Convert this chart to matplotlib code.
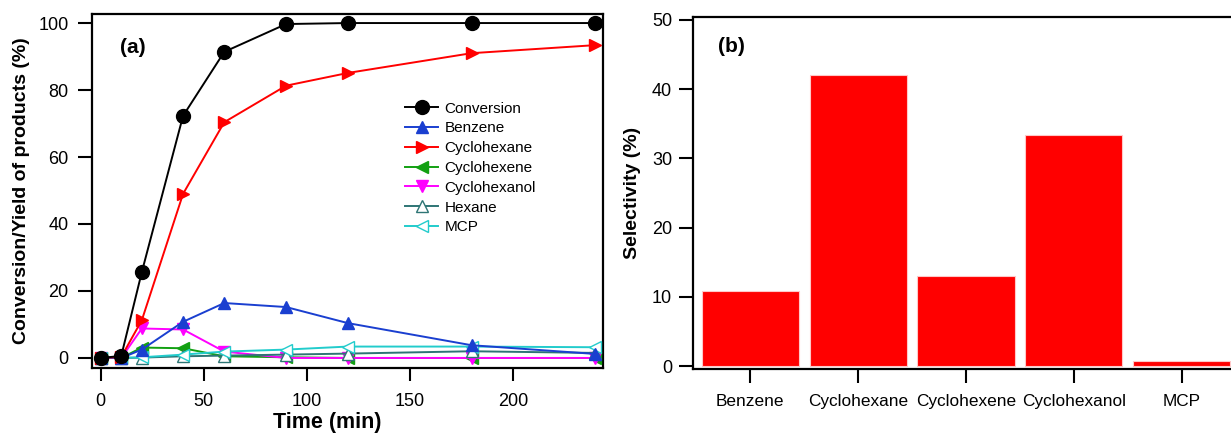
import matplotlib
matplotlib.use("Agg")
import matplotlib.pyplot as plt
import numpy as np

plt.rcParams['font.family'] = ['Liberation Sans', 'DejaVu Sans']

# Reaction time course
time_min = [0, 10, 20, 40, 60, 90, 120, 180, 240]
conversion = [0, 0.6, 25.7, 72.3, 91.4, 99.7, 100, 100, 100]
benzene = [0, 0, 2.5, 10.8, 16.4, 15.2, 10.4, 3.8, 1.2]
cyclohexane = [0, 0.3, 11.3, 49.0, 70.4, 81.3, 85.1, 91.0, 93.4]
cyclohexene = [0, 0, 3.1, 2.9, 0.5, 0.2, 0, 0, 0]
cyclohexanol = [0, 0, 8.8, 8.5, 1.9, 0, 0, 0, 0]
hexane = [0, 0, 0.1, 0.5, 0.7, 1.0, 1.3, 2.0, 1.5]
mcp = [0, 0, 0.2, 1.0, 1.9, 2.5, 3.4, 3.4, 3.2]

# Product selectivity
sel_products = ['Benzene', 'Cyclohexane', 'Cyclohexene', 'Cyclohexanol', 'MCP']
sel_values = [10.8, 42.0, 13.0, 33.4, 0.7]

W, H = 1231, 436
fig = plt.figure(figsize=(W / 100, H / 100), dpi=100)

ax1 = fig.add_axes([92 / W, (H - 368) / H, (603 - 92) / W, (368 - 14) / H])
ax2 = fig.add_axes([693 / W, (H - 369) / H, (1239 - 693) / W, (369 - 17) / H])

series = [
    ('Conversion', conversion, 'black', 'o', 'black', 10, 5),
    ('Benzene', benzene, '#1a3fd0', '^', '#1a3fd0', 9, 4),
    ('Cyclohexane', cyclohexane, '#ff0000', '>', '#ff0000', 9, 4),
    ('Cyclohexene', cyclohexene, '#12a012', '<', '#12a012', 9, 3),
    ('Cyclohexanol', cyclohexanol, '#ff00ff', 'v', '#ff00ff', 9, 3),
    ('Hexane', hexane, '#2e7575', '^', 'white', 8, 3),
    ('MCP', mcp, '#22cccc', '<', 'white', 8, 3),
]
for name, vals, col, mk, fc, ms, z in series:
    ax1.plot(time_min, vals, color=col, marker=mk, markerfacecolor=fc,
             markeredgecolor=col, markersize=ms, lw=1.4, label=name,
             zorder=z, clip_on=False)

ax1.set_xlim(-4.2, 243.8)
ax1.set_ylim(-3.0, 102.7)
ax1.set_xticks([0, 50, 100, 150, 200])
ax1.set_yticks([0, 20, 40, 60, 80, 100])
ax1.tick_params(axis='y', direction='out', length=10, width=1.5, pad=7,
                labelsize=13)
ax1.tick_params(axis='x', direction='out', length=9, width=1.5, pad=9,
                labelsize=13)
for s in ax1.spines.values():
    s.set_linewidth(1.6)
ax1.set_xlabel('Time (min)', fontsize=15.5, fontweight='bold', labelpad=2)
ax1.xaxis.set_label_coords(0.46, -0.125)
ax1.set_ylabel('Conversion/Yield of products (%)', fontsize=14,
               fontweight='bold', labelpad=6)
ax1.text(0.055, 0.905, '(a)', transform=ax1.transAxes, fontsize=15,
         fontweight='bold', va='center')
leg = ax1.legend(loc='upper left', bbox_to_anchor=(0.6, 0.77), frameon=False,
                 fontsize=11, handlelength=2.2, handletextpad=0.4,
                 labelspacing=0.38, borderaxespad=0)

# Selectivity bars
pos = np.arange(len(sel_products))
ax2.bar(pos, sel_values, width=0.9, color='#ff0000', edgecolor='#ffc8c8',
        linewidth=0.8, zorder=2)
ax2.set_xlim(-0.53, 4.53)
ax2.set_ylim(-0.43, 50.43)
ax2.set_yticks([0, 10, 20, 30, 40, 50])
ax2.set_xticks(pos)
ax2.set_xticklabels(sel_products)
ax2.tick_params(axis='y', direction='out', length=10, width=1.5, pad=5,
                labelsize=13)
ax2.tick_params(axis='x', direction='out', length=10, width=1.5, pad=8,
                labelsize=12.4)
for s in ax2.spines.values():
    s.set_linewidth(1.6)
ax2.set_ylabel('Selectivity (%)', fontsize=14, fontweight='bold', labelpad=8)
ax2.text(0.045, 0.915, '(b)', transform=ax2.transAxes, fontsize=15,
         fontweight='bold', va='center')

fig.savefig('out.png', dpi=100)
